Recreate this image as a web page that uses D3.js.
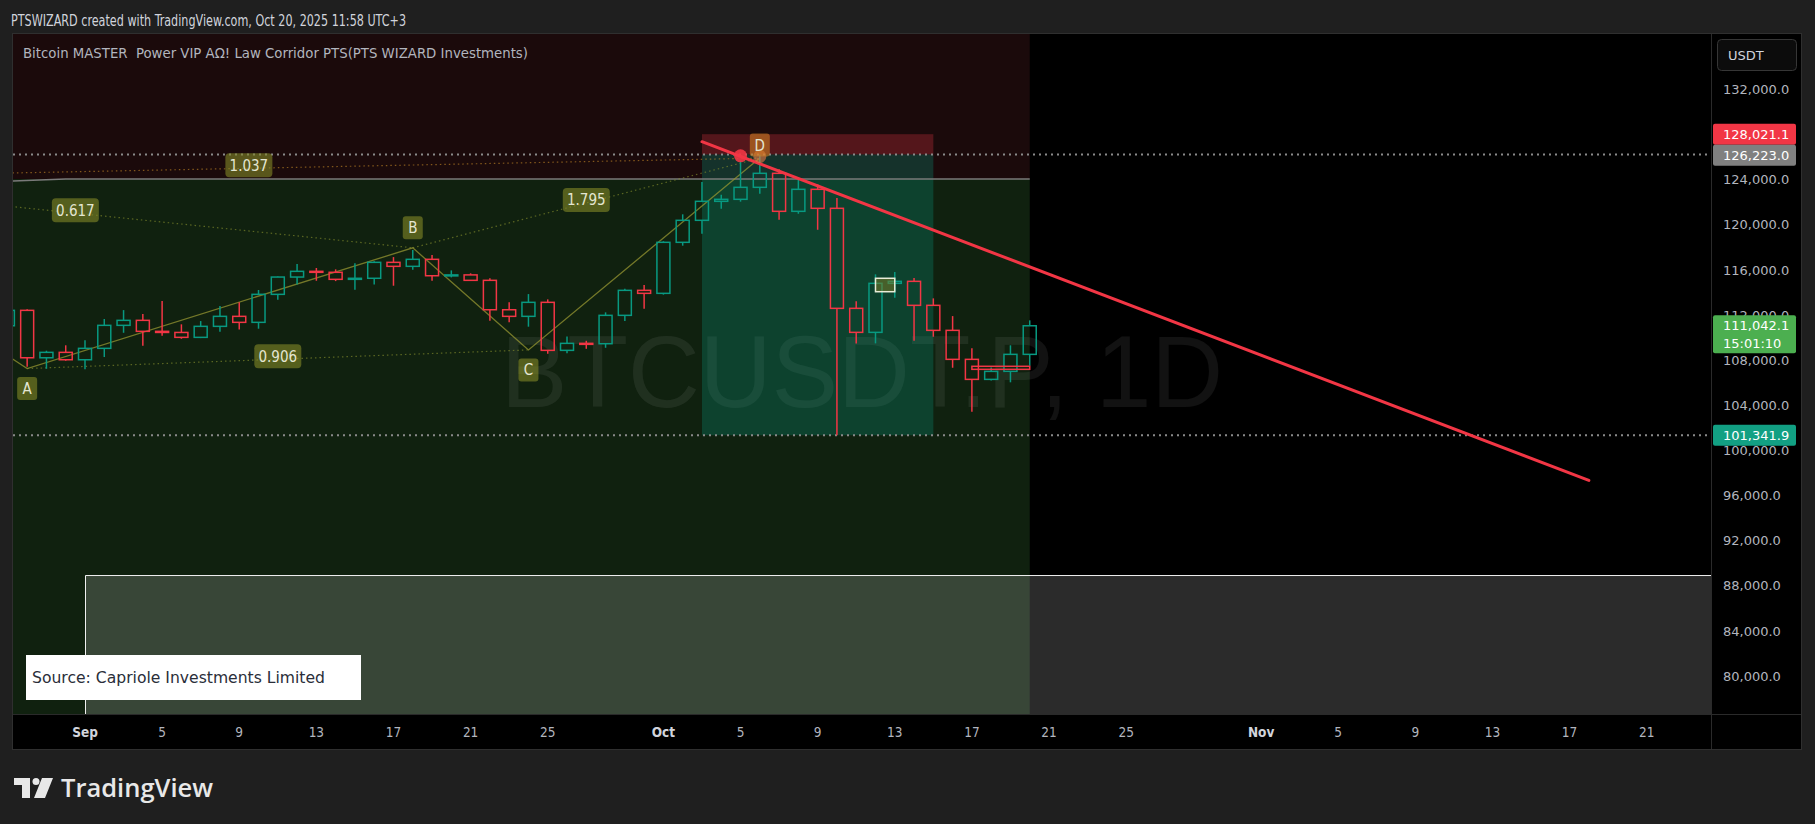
<!DOCTYPE html>
<meta charset="utf-8">
<style>
  body { margin: 0; background: #1f1f1f; }
  svg { display: block; }
</style>
<svg width="1815" height="824"></svg>
<script src="https://d3js.org/d3.v7.min.js"></script>
<script>

// ---- data ----
var firstCandle = "2025-08-28";   // daily candles, one per day up to Oct 20
var opens  = [111043,112408,108206,108685,108029,109040,111079,111522,110547,110450,110015,110990,111877,111345,113827,115360,115866,115780,115157,115250,116663,116309,116930,115476,115550,115068,112462,111877,113118,108862,109483,109450,111965,114181,113916,118437,120387,122071,122249,123312,124553,121185,123135,121451,112586,110458,114802,114979,112852,110635,108065,106291,106999,108508];
var highs  = [112600,112500,108830,109310,109750,111640,112430,112080,113230,111170,111460,112790,113120,114210,115400,116510,116160,116040,116580,116750,117130,117750,117310,115950,115690,115250,113120,113850,113380,110100,109710,112230,114320,114650,118530,120920,123780,122660,125700,126223,124910,123960,123580,122360,113210,115600,115800,115270,113470,111900,109040,107350,109310,111520];
var lows   = [110900,107410,107230,107940,107180,108270,110420,109270,110160,109890,109950,110510,110720,110780,113350,114710,115030,115000,114230,114710,114590,116010,115030,115330,115020,111490,111350,110960,108560,108600,109000,109090,111460,112550,113800,118140,119200,121420,122040,122750,120440,120970,119550,101342,109480,109480,113530,109710,110070,107320,103420,106200,106030,107500];
var closes = [112408,108206,108685,108029,109040,111079,111522,110547,110450,110015,110990,111877,111345,113827,115360,115866,115780,115157,115250,116663,116309,116930,115476,115550,115068,112462,111877,113118,108862,109483,109450,111965,114181,113916,118437,120387,122071,122249,123312,124553,121185,123135,121451,112586,110458,114802,114979,112852,110635,108065,106291,106999,108508,111042];

var priceTicks = d3.range(80000, 132001, 4000);
var dateTicks = ["2025-09-01","2025-09-05","2025-09-09","2025-09-13","2025-09-17","2025-09-21","2025-09-25",
                 "2025-10-01","2025-10-05","2025-10-09","2025-10-13","2025-10-17","2025-10-21","2025-10-25",
                 "2025-11-01","2025-11-05","2025-11-09","2025-11-13","2025-11-17","2025-11-21"];

// harmonic pattern points
var patternNames  = ["X", "A", "B", "C", "D"];
var patternDates  = ["2025-08-14","2025-08-29","2025-09-18","2025-09-24","2025-10-06"];
var patternPrices = [124100, 107250, 117950, 108900, 125900];
var ratioFrom   = [0, 0, 1, 2];
var ratioTo     = [2, 4, 3, 4];
var ratioLabels = ["0.617", "1.037", "0.906", "1.795"];

// zones / drawings
var zoneEnd = "2025-10-20", zoneSplit = 124050;
var cornerDates = ["2025-08-27", "2025-08-31", "2025-10-20"], cornerPrices = [123800, 124050, 124050];
var boxStart = "2025-09-01", boxTop = 88950;
var posStart = "2025-10-03", posEnd = "2025-10-15";
var posStop = 128021.1, posEntry = 126223.0, posTarget = 101341.9;
var trendDates = ["2025-10-03", "2025-11-18"], trendPrices = [127355, 97330];
var dotDates = ["2025-10-05", "2025-10-06"], dotPrices = [126100, 126050];
var noteDates = ["2025-10-12", "2025-10-13"], notePrices = [115250, 114060];
var redBoxDates = ["2025-10-17", "2025-10-20"], redBoxPrices = [107450, 107180];
var hLines = [126223.0, 101341.9];

var tagValues = [128021.1, 126223.0, 111042.1, 101341.9];
var tagColors = ["#f23645", "#808080", "#4caf50", "#12a083"];
var tagExtra  = ["", "", "15:01:10", ""];

// ---- layout ----
var svg = d3.select("svg");
var plot = {left: 13, right: 1711, top: 34, bottom: 714};
var frameRight = 1801, axisBottom = 749;
var up = "#089981", down = "#f23645";
var uiFont = "'DejaVu Sans Condensed', 'DejaVu Sans', sans-serif";
var axisFont = "'DejaVu Sans', sans-serif";

var parse = d3.utcParse("%Y-%m-%d");
var x = d3.scaleUtc().domain([parse("2025-09-01"), parse("2025-11-21")]).range([85, 1646.7]);
var y = d3.scaleLinear().domain([80000, 132000]).range([676, 89.3]);

var candles = opens.map(function(o, i) {
  return {date: d3.utcDay.offset(parse(firstCandle), i), o: o, h: highs[i], l: lows[i], c: closes[i]};
});

// frame
svg.append("rect")
    .attr("x", 12.5).attr("y", 33.5)
    .attr("width", frameRight - 12).attr("height", axisBottom - 33)
    .attr("fill", "#000").attr("stroke", "#2f2f2f");

svg.append("clipPath").attr("id", "plotclip")
  .append("rect")
    .attr("x", plot.left).attr("y", plot.top)
    .attr("width", plot.right - plot.left).attr("height", plot.bottom - plot.top);

var g = svg.append("g").attr("clip-path", "url(#plotclip)");

// background zones
g.append("rect")
    .attr("x", plot.left).attr("y", plot.top)
    .attr("width", x(parse(zoneEnd)) - plot.left)
    .attr("height", y(zoneSplit) - plot.top)
    .attr("fill", "#1b0a0b");
g.append("rect")
    .attr("x", plot.left).attr("y", y(zoneSplit))
    .attr("width", x(parse(zoneEnd)) - plot.left)
    .attr("height", plot.bottom - y(zoneSplit))
    .attr("fill", "#10210f");

// big translucent box at the bottom
g.append("rect")
    .attr("x", x(parse(boxStart))).attr("y", y(boxTop))
    .attr("width", plot.right - x(parse(boxStart)))
    .attr("height", plot.bottom - y(boxTop))
    .attr("fill", "rgba(255,255,255,0.17)");
g.append("path")
    .attr("d", "M" + (x(parse(boxStart)) + 0.5) + "," + plot.bottom + "V" + (y(boxTop) + 0.5) + "H" + plot.right)
    .attr("fill", "none").attr("stroke", "#f0f0f0").attr("stroke-width", 1);

// watermark
g.append("text")
    .attr("x", 862).attr("y", 406.7)
    .attr("text-anchor", "middle")
    .attr("font-family", "'Liberation Sans', Arial, sans-serif")
    .attr("font-size", 102)
    .attr("textLength", 722).attr("lengthAdjust", "spacingAndGlyphs")
    .attr("fill", "rgba(255,255,255,0.07)")
    .text("BTCUSDT.P, 1D");

// short position box
var px0 = x(parse(posStart)), px1 = x(parse(posEnd));
g.append("rect")
    .attr("x", px0).attr("y", y(posStop))
    .attr("width", px1 - px0).attr("height", y(posEntry) - y(posStop))
    .attr("fill", "rgba(242,54,69,0.27)");
g.append("rect")
    .attr("x", px0).attr("y", y(posEntry))
    .attr("width", px1 - px0).attr("height", y(posTarget) - y(posEntry))
    .attr("fill", "rgba(8,153,129,0.28)");

// grey corridor line
var line = d3.line().x(function(d) { return x(d[0]); }).y(function(d) { return y(d[1]); });
g.append("path")
    .attr("d", line(cornerDates.map(function(d, i) { return [parse(d), cornerPrices[i]]; })))
    .attr("fill", "none").attr("stroke", "#7a7a7a").attr("stroke-width", 1.5);

// dotted price lines
g.selectAll(".hline").data(hLines).enter().append("line")
    .attr("x1", plot.left).attr("x2", plot.right)
    .attr("y1", function(d) { return y(d); }).attr("y2", function(d) { return y(d); })
    .attr("stroke", "#8a8a8a").attr("stroke-width", 2).attr("stroke-dasharray", "2,4");

// harmonic pattern
var pts = patternDates.map(function(d, i) { return {name: patternNames[i], x: x(parse(d)), y: y(patternPrices[i])}; });
g.append("path")
    .attr("d", d3.line().x(function(d) { return d.x; }).y(function(d) { return d.y; })(pts))
    .attr("fill", "none").attr("stroke", "rgba(150,150,50,0.75)").attr("stroke-width", 1.3);
ratioFrom.forEach(function(a, i) {
  var b = ratioTo[i];
  g.append("line")
      .attr("x1", pts[a].x).attr("y1", pts[a].y).attr("x2", pts[b].x).attr("y2", pts[b].y)
      .attr("stroke", i === 1 ? "rgba(200,140,40,0.6)" : "rgba(130,140,45,0.65)")
      .attr("stroke-width", 1.2).attr("stroke-dasharray", "1.5,3");
});

// candles
var cw = 13;
var cg = g.append("g").selectAll("g").data(candles).enter().append("g")
    .attr("stroke", function(d) { return d.c >= d.o ? up : down; })
    .attr("stroke-width", 1.5).attr("fill", "none");
cg.append("line")
    .attr("x1", function(d) { return x(d.date); }).attr("x2", function(d) { return x(d.date); })
    .attr("y1", function(d) { return y(d.h); })
    .attr("y2", function(d) { return y(Math.max(d.o, d.c)); });
cg.append("line")
    .attr("x1", function(d) { return x(d.date); }).attr("x2", function(d) { return x(d.date); })
    .attr("y1", function(d) { return y(Math.min(d.o, d.c)); })
    .attr("y2", function(d) { return y(d.l); });
cg.append("rect")
    .attr("x", function(d) { return x(d.date) - cw / 2; })
    .attr("width", cw)
    .attr("y", function(d) { return y(Math.max(d.o, d.c)); })
    .attr("height", function(d) { return Math.max(1, Math.abs(y(d.o) - y(d.c))); });

// small drawings
g.append("rect")
    .attr("x", x(parse(noteDates[0]))).attr("y", y(notePrices[0]))
    .attr("width", x(parse(noteDates[1])) - x(parse(noteDates[0])))
    .attr("height", y(notePrices[1]) - y(notePrices[0]))
    .attr("fill", "rgba(120,120,40,0.55)").attr("stroke", "#e8ecd8").attr("stroke-width", 1.5);
g.append("rect")
    .attr("x", x(parse(redBoxDates[0]))).attr("y", y(redBoxPrices[0]))
    .attr("width", x(parse(redBoxDates[1])) - x(parse(redBoxDates[0])))
    .attr("height", y(redBoxPrices[1]) - y(redBoxPrices[0]))
    .attr("fill", "none").attr("stroke", down).attr("stroke-width", 1.5);

// trend line
g.append("path")
    .attr("d", line(trendDates.map(function(d, i) { return [parse(d), trendPrices[i]]; })))
    .attr("stroke", "#f23645").attr("stroke-width", 3).attr("stroke-linecap", "round");

g.append("circle")
    .attr("cx", x(parse(dotDates[1]))).attr("cy", y(dotPrices[1])).attr("r", 6.5)
    .attr("fill", "rgba(232,120,70,0.6)");

// pattern labels
var lab = g.append("g").attr("font-family", uiFont).attr("font-size", 15).attr("text-anchor", "middle");
ratioFrom.forEach(function(a, i) {
  var b = ratioTo[i];
  var mx = (pts[a].x + pts[b].x) / 2, my = (pts[a].y + pts[b].y) / 2 - 3;
  lab.append("rect").attr("x", mx - 23.5).attr("y", my - 12).attr("width", 47).attr("height", 24).attr("rx", 4)
      .attr("fill", "rgba(128,134,38,0.62)");
  lab.append("text").attr("x", mx).attr("y", my).attr("dy", "0.36em").attr("fill", "#e4e6d2").text(ratioLabels[i]);
});
pts.slice(1).forEach(function(p) {
  var dy = p.name === "B" ? -20 : (p.name === "D" ? -13 : 20);
  var col = p.name === "D" ? "rgba(205,125,35,0.6)" : "rgba(128,134,38,0.62)";
  lab.append("rect").attr("x", p.x - 10).attr("y", p.y + dy - 11.5).attr("width", 20).attr("height", 23).attr("rx", 3)
      .attr("fill", col);
  lab.append("text").attr("x", p.x).attr("y", p.y + dy).attr("dy", "0.36em").attr("fill", "#e4e6d2").text(p.name);
});

g.append("circle")
    .attr("cx", x(parse(dotDates[0]))).attr("cy", y(dotPrices[0])).attr("r", 6.5)
    .attr("fill", "rgba(242,54,69,0.9)");

// source note
svg.append("rect").attr("x", 26).attr("y", 655).attr("width", 335).attr("height", 45).attr("fill", "#fff");
svg.append("text")
    .attr("x", 32).attr("y", 683)
    .attr("font-family", "'DejaVu Sans', sans-serif").attr("font-size", 15)
    .attr("textLength", 293).attr("lengthAdjust", "spacingAndGlyphs")
    .attr("fill", "#2a2e39")
    .text("Source: Capriole Investments Limited");

// axis separators
svg.append("line").attr("x1", plot.left).attr("x2", frameRight).attr("y1", plot.bottom + 0.5).attr("y2", plot.bottom + 0.5)
    .attr("stroke", "#2a2a2a");
svg.append("line").attr("x1", plot.right + 0.5).attr("x2", plot.right + 0.5).attr("y1", plot.top).attr("y2", axisBottom)
    .attr("stroke", "#2a2a2a");

// price axis
var pa = svg.append("g").attr("font-family", axisFont).attr("font-size", 13);
pa.selectAll("text.tick").data(priceTicks).enter().append("text")
    .attr("x", 1723).attr("y", function(d) { return y(d); }).attr("dy", "0.36em")
    .attr("fill", "#b2b5be")
    .text(d3.format(",.1f"));

pa.append("rect").attr("x", 1717.5).attr("y", 39.5).attr("width", 79).attr("height", 31).attr("rx", 4)
    .attr("fill", "#0c0c0c").attr("stroke", "#363636");
pa.append("text").attr("x", 1728).attr("y", 55).attr("dy", "0.36em").attr("fill", "#d1d4dc").text("USDT");

tagValues.forEach(function(v, i) {
  var extra = tagExtra[i];
  var h = extra ? 38 : 21;
  var top = y(v) - 10.5;
  if (i === 1) top = y(tagValues[0]) + 10.5;   // stacked right below the stop tag
  pa.append("rect").attr("x", 1713).attr("y", top).attr("width", 83).attr("height", h).attr("rx", 2)
      .attr("fill", tagColors[i]);
  pa.append("text").attr("x", 1723).attr("y", top + 10.5).attr("dy", "0.36em").attr("fill", "#fff")
      .text(d3.format(",.1f")(v));
  if (extra) {
    pa.append("text").attr("x", 1723).attr("y", top + 28).attr("dy", "0.36em").attr("fill", "#fff").text(extra);
  }
});

// time axis
var monthFmt = d3.utcFormat("%b"), dayFmt = d3.utcFormat("%-d");
svg.append("g").attr("font-family", uiFont).attr("font-size", 13.5).attr("text-anchor", "middle")
  .selectAll("text").data(dateTicks.map(parse)).enter().append("text")
    .attr("x", function(d) { return x(d); }).attr("y", 737)
    .attr("fill", function(d) { return d.getUTCDate() === 1 ? "#d1d4dc" : "#b2b5be"; })
    .attr("font-weight", function(d) { return d.getUTCDate() === 1 ? "bold" : "normal"; })
    .text(function(d) { return d.getUTCDate() === 1 ? monthFmt(d) : dayFmt(d); });

// header + legend
svg.append("text")
    .attr("x", 11).attr("y", 25.5)
    .attr("font-family", uiFont).attr("font-size", 15)
    .attr("textLength", 395).attr("lengthAdjust", "spacingAndGlyphs")
    .attr("fill", "#d1d4dc")
    .text("PTSWIZARD created with TradingView.com, Oct 20, 2025 11:58 UTC+3");
svg.append("text")
    .attr("x", 23).attr("y", 58)
    .attr("font-family", uiFont).attr("font-size", 14.5)
    .attr("textLength", 505).attr("lengthAdjust", "spacingAndGlyphs")
    .style("white-space", "pre")
    .attr("fill", "#b2b5be")
    .text("Bitcoin MASTER  Power VIP A\u03A9! Law Corridor PTS(PTS WIZARD Investments)");

// TradingView logo
var logo = svg.append("g").attr("fill", "#e8e8e8");
logo.append("path").attr("d", "M14,778H30V798H22V785H14Z");
logo.append("circle").attr("cx", 36).attr("cy", 781.5).attr("r", 3.5);
logo.append("path").attr("d", "M42,778H53L45,798H34Z");
logo.append("text")
    .attr("x", 61).attr("y", 797)
    .attr("font-family", "'Open Sans', 'Noto Sans', sans-serif").attr("font-weight", 600).attr("font-size", 25)
    .attr("textLength", 152).attr("lengthAdjust", "spacingAndGlyphs")
    .text("TradingView");

</script>
